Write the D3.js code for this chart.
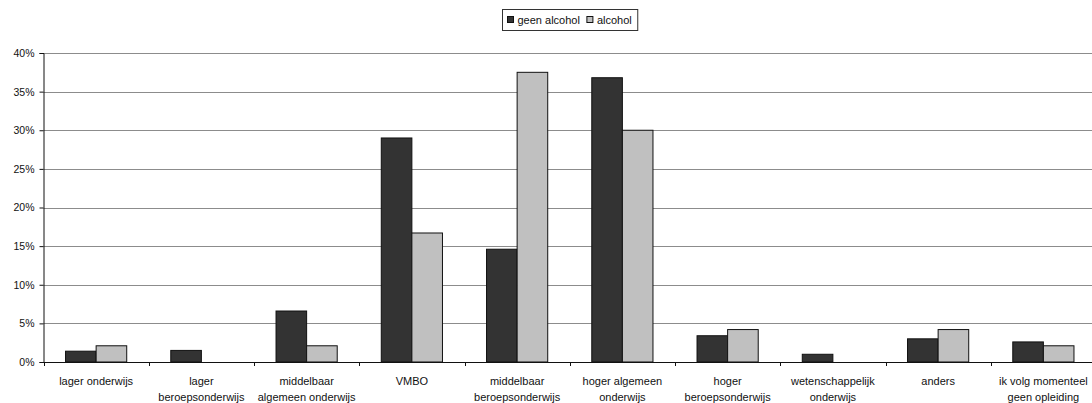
<!DOCTYPE html>
<html>
<head>
<meta charset="utf-8">
<script src="https://cdn.jsdelivr.net/npm/d3@7"></script>
<style>
  html, body { margin: 0; padding: 0; background: #ffffff; }
  svg { display: block; font-family: "Liberation Sans", Arial, sans-serif; }
</style>
</head>
<body>
<svg id="chart" width="1092" height="403"></svg>
<script>
// Education level categories, each split into its display lines
const categories = [
  "lager onderwijs",
  "lager beroepsonderwijs",
  "middelbaar algemeen onderwijs",
  "VMBO",
  "middelbaar beroepsonderwijs",
  "hoger algemeen onderwijs",
  "hoger beroepsonderwijs",
  "wetenschappelijk onderwijs",
  "anders",
  "ik volg momenteel geen opleiding"
];
const categoryLines = [
  ["lager onderwijs"],
  ["lager", "beroepsonderwijs"],
  ["middelbaar", "algemeen onderwijs"],
  ["VMBO"],
  ["middelbaar", "beroepsonderwijs"],
  ["hoger algemeen", "onderwijs"],
  ["hoger", "beroepsonderwijs"],
  ["wetenschappelijk", "onderwijs"],
  ["anders"],
  ["ik volg momenteel", "geen opleiding"]
];

const seriesNames = ["geen alcohol", "alcohol"];
// Share of respondents per education level (fractions)
const geenAlcohol = [0.014, 0.015, 0.066, 0.290, 0.146, 0.368, 0.034, 0.010, 0.030, 0.026];
const alcohol     = [0.021, 0.000, 0.021, 0.167, 0.375, 0.300, 0.042, 0.000, 0.042, 0.021];

const yTicks = [0, 0.05, 0.10, 0.15, 0.20, 0.25, 0.30, 0.35, 0.40];

const seriesValues = [geenAlcohol, alcohol];
const seriesColors = ["#333333", "#c0c0c0"];

const svg = d3.select("#chart");

const plotLeft = 43.5, plotRight = 1096, plotTop = 53, plotBottom = 362;

const x = d3.scaleBand()
  .domain(categories)
  .range([plotLeft, plotRight])
  .paddingInner(0)
  .paddingOuter(0);

const bw = x.bandwidth();
const gapFrac = 1.44; // gap between groups relative to one bar width
const barW = bw / (2 + gapFrac);
const xs = d3.scaleBand()
  .domain(seriesNames)
  .range([barW * gapFrac / 2, barW * gapFrac / 2 + 2 * barW])
  .padding(0);

const y = d3.scaleLinear().domain([0, 0.4]).range([plotBottom, plotTop]);

// Horizontal gridlines
svg.append("g")
  .selectAll("line")
  .data(yTicks.filter(t => t > 0))
  .join("line")
  .attr("x1", plotLeft)
  .attr("x2", plotRight)
  .attr("y1", d => Math.round(y(d)) + 0.5)
  .attr("y2", d => Math.round(y(d)) + 0.5)
  .attr("stroke", "#8c8c8c")
  .attr("stroke-width", 1);

// Bars
const rows = categories.map((c, i) => ({
  cat: c,
  values: seriesNames.map((s, k) => ({ series: s, k, value: seriesValues[k][i] }))
}));

const groups = svg.append("g")
  .selectAll("g")
  .data(rows)
  .join("g")
  .attr("transform", d => `translate(${x(d.cat)},0)`);

groups.selectAll("rect")
  .data(d => d.values.filter(v => v.value > 0))
  .join("rect")
  .attr("x", d => xs(d.series))
  .attr("width", xs.bandwidth())
  .attr("y", d => y(d.value))
  .attr("height", d => plotBottom - y(d.value))
  .attr("fill", d => seriesColors[d.k])
  .attr("stroke", "#111111")
  .attr("stroke-width", 1);

// Y axis
const yAxis = d3.axisLeft(y)
  .tickValues(yTicks)
  .tickFormat(d3.format(".0%"))
  .tickSize(4)
  .tickPadding(5);

const yg = svg.append("g")
  .attr("transform", `translate(${plotLeft},0)`)
  .call(yAxis);
yg.select(".domain").attr("stroke", "#111111");
yg.selectAll(".tick line").attr("stroke", "#111111");
yg.selectAll(".tick text")
  .attr("font-size", "10.5px")
  .attr("fill", "#111111")
  .attr("font-family", "Liberation Sans, Arial, sans-serif");

// X axis line with ticks at category boundaries
svg.append("line")
  .attr("x1", plotLeft).attr("x2", plotRight)
  .attr("y1", plotBottom + 0.5).attr("y2", plotBottom + 0.5)
  .attr("stroke", "#111111");

const boundaries = categories.map(c => x(c)).concat([plotRight]);
svg.append("g")
  .selectAll("line")
  .data(boundaries)
  .join("line")
  .attr("x1", d => Math.round(d) + 0.5)
  .attr("x2", d => Math.round(d) + 0.5)
  .attr("y1", plotBottom)
  .attr("y2", plotBottom + 4)
  .attr("stroke", "#111111");

// Category labels
const labels = svg.append("g")
  .selectAll("text")
  .data(categories)
  .join("text")
  .attr("x", d => x(d) + bw / 2)
  .attr("y", 384.5)
  .attr("text-anchor", "middle")
  .attr("font-size", "11px")
  .attr("fill", "#111111");

labels.selectAll("tspan")
  .data((d, i) => categoryLines[i])
  .join("tspan")
  .attr("x", function() { return d3.select(this.parentNode).attr("x"); })
  .attr("dy", (d, j) => j === 0 ? 0 : 16.5)
  .text(d => d);

// Legend
const legend = svg.append("g");
const legendBox = legend.append("rect")
  .attr("fill", "#ffffff")
  .attr("stroke", "#333333")
  .attr("stroke-width", 1);

const items = legend.selectAll("g.item")
  .data(seriesNames)
  .join("g")
  .attr("class", "item");

items.append("rect")
  .attr("width", 6)
  .attr("height", 6)
  .attr("fill", (d, i) => seriesColors[i])
  .attr("stroke", "#111111")
  .attr("stroke-width", 1);

items.append("text")
  .attr("x", 10)
  .attr("y", 7)
  .attr("font-size", "11px")
  .attr("fill", "#111111")
  .text(d => d);

// Lay out legend items horizontally, centred over the plot
let cursor = 0;
const itemPos = [];
items.each(function() {
  const w = this.getBBox().width;
  itemPos.push(cursor);
  cursor += w + 7;
});
const legendInner = cursor - 7;
const padX = 5;
const boxW = legendInner + padX * 2 + 1;
const boxH = 21;
const boxX = Math.round((plotLeft + plotRight) / 2 - boxW / 2) + 0.5;
const boxY = 9.5;
legendBox.attr("x", boxX).attr("y", boxY).attr("width", boxW).attr("height", boxH);
items.attr("transform", (d, i) => `translate(${boxX + padX + itemPos[i]},${boxY + 7})`);
</script>
</body>
</html>
